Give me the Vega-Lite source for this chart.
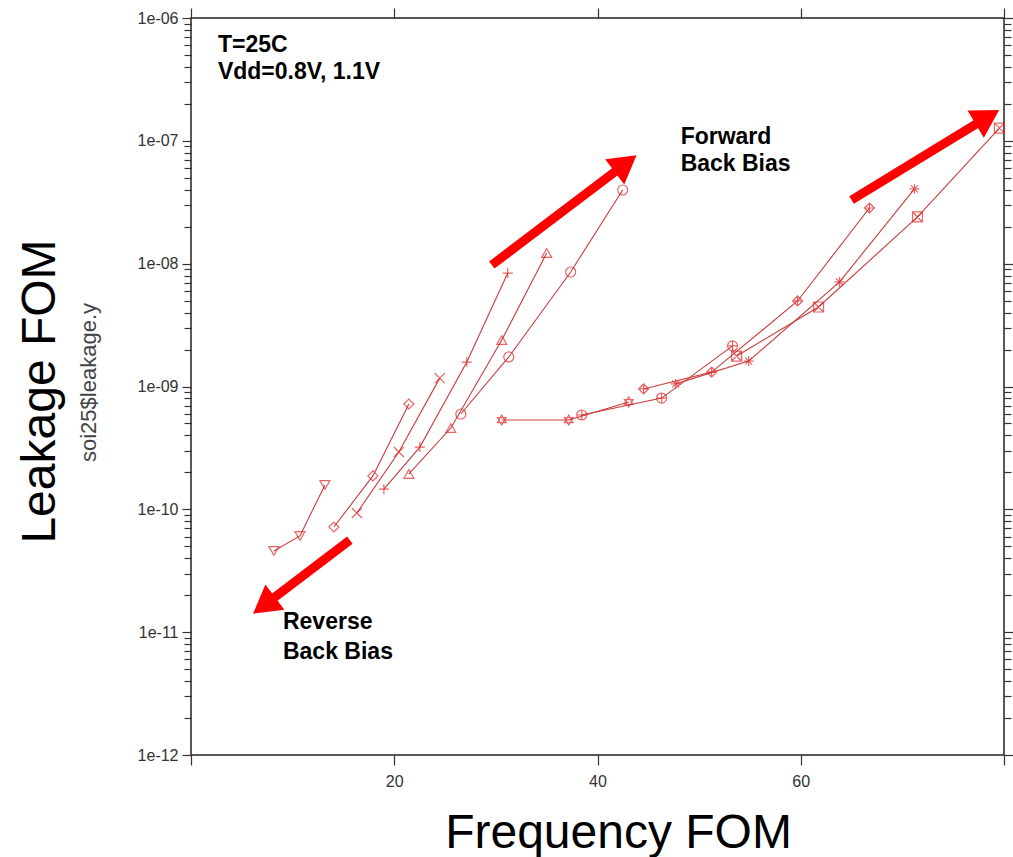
{
  "$schema": "https://vega.github.io/schema/vega-lite/v6.json",
  "width": 813,
  "height": 737,
  "autosize": {"type": "none"},
  "padding": {"left": 191, "top": 18, "right": 9, "bottom": 102},
  "background": "white",
  "config": {
    "view": {"stroke": "#222", "strokeWidth": 1.5},
    "font": "Liberation Sans",
    "axis": {"labelFont": "Liberation Sans", "titleFont": "Liberation Sans", "domain": false, "grid": false, "ticks": true, "tickColor": "#333", "tickWidth": 1.2, "tickOpacity": 1, "labelColor": "#333"}
  },
  "datasets": {
    "pts": [
      {"series": "L1", "x": 8.16, "y": 4.58e-11}, {"series": "L1", "x": 10.72, "y": 6.07e-11}, {"series": "L1", "x": 13.18, "y": 1.58e-10},
      {"series": "L2", "x": 14.06, "y": 7.18e-11}, {"series": "L2", "x": 17.9, "y": 1.87e-10}, {"series": "L2", "x": 21.44, "y": 7.2e-10},
      {"series": "L3", "x": 16.32, "y": 9.33e-11}, {"series": "L3", "x": 20.45, "y": 2.93e-10}, {"series": "L3", "x": 24.48, "y": 1.17e-9},
      {"series": "L4", "x": 18.98, "y": 1.46e-10}, {"series": "L4", "x": 22.52, "y": 3.21e-10}, {"series": "L4", "x": 27.14, "y": 1.58e-9}, {"series": "L4", "x": 31.17, "y": 8.39e-9},
      {"series": "L5", "x": 21.44, "y": 1.94e-10}, {"series": "L5", "x": 25.57, "y": 4.59e-10}, {"series": "L5", "x": 30.58, "y": 2.39e-9}, {"series": "L5", "x": 35.0, "y": 1.22e-8},
      {"series": "L6", "x": 26.55, "y": 5.97e-10}, {"series": "L6", "x": 31.27, "y": 1.74e-9}, {"series": "L6", "x": 37.36, "y": 8.55e-9}, {"series": "L6", "x": 42.48, "y": 3.98e-8},
      {"series": "R1", "x": 30.58, "y": 5.33e-10}, {"series": "R1", "x": 37.17, "y": 5.33e-10}, {"series": "R1", "x": 43.07, "y": 7.48e-10},
      {"series": "R2", "x": 38.45, "y": 5.86e-10}, {"series": "R2", "x": 46.31, "y": 8.05e-10}, {"series": "R2", "x": 53.29, "y": 2.14e-9},
      {"series": "R3", "x": 44.54, "y": 9.55e-10}, {"series": "R3", "x": 51.23, "y": 1.31e-9}, {"series": "R3", "x": 59.69, "y": 4.97e-9}, {"series": "R3", "x": 66.76, "y": 2.84e-8},
      {"series": "R4", "x": 47.69, "y": 1.05e-9}, {"series": "R4", "x": 54.87, "y": 1.61e-9}, {"series": "R4", "x": 63.82, "y": 7.1e-9}, {"series": "R4", "x": 71.19, "y": 4.06e-8},
      {"series": "R5", "x": 53.69, "y": 1.77e-9}, {"series": "R5", "x": 61.75, "y": 4.44e-9}, {"series": "R5", "x": 71.49, "y": 2.4e-8}, {"series": "R5", "x": 79.55, "y": 1.27e-7}
    ],
    "arrows": [
      {"arrow": "fwd1", "x": 29.6, "y": 9.75e-9, "x2": 42.77, "y2": 6.53e-8, "heading": 53},
      {"arrow": "fwd2", "x": 65.0, "y": 3.3e-8, "x2": 78.37, "y2": 1.56e-7, "heading": 59},
      {"arrow": "rev", "x": 15.63, "y": 5.62e-11, "x2": 7.18, "y2": 1.65e-11, "heading": 233}
    ],
    "notes": [
      {"label": "T=25C", "x": 2.65, "y": 6.03e-7},
      {"label": "Vdd=0.8V, 1.1V", "x": 2.65, "y": 3.63e-7},
      {"label": "Forward", "x": 48.18, "y": 1.07e-7},
      {"label": "Back Bias", "x": 48.18, "y": 6.5e-8},
      {"label": "Reverse", "x": 9.05, "y": 1.2e-11},
      {"label": "Back Bias", "x": 9.05, "y": 6.85e-12}
    ]
  },
  "resolve": {"axis": {"x": "independent", "y": "independent"}},
  "layer": [
    {
      "data": {"name": "pts"},
      "mark": {"type": "line", "color": "#c83c3c", "strokeWidth": 1.1},
      "encoding": {
        "x": {"field": "x", "type": "quantitative", "scale": {"domain": [0, 80], "nice": false, "zero": false},
          "axis": {"orient": "bottom", "values": [0, 20, 40, 60, 80], "labelExpr": "datum.value == 0 || datum.value == 80 ? '' : datum.label", "tickSize": 10, "labelFontSize": 16, "labelPadding": 8,
            "title": "Frequency FOM", "titleFontSize": 48, "titleFontWeight": "normal", "titleColor": "#000", "titleX": 427, "titleY": 78, "titleBaseline": "middle", "titleAlign": "center"}},
        "y": {"field": "y", "type": "quantitative", "scale": {"type": "log", "domain": [1e-12, 1e-6], "nice": false, "zero": false},
          "axis": {"orient": "left", "values": [1e-12, 1e-11, 1e-10, 1e-9, 1e-8, 1e-7, 1e-6], "labelExpr": "'1e-' + format(-round(log(datum.value)/LN10), '02d')", "tickSize": 9, "labelFontSize": 16, "labelPadding": 4,
            "title": "Leakage FOM", "titleFontSize": 48, "titleFontWeight": "normal", "titleColor": "#000", "titleAngle": -90, "titleX": -151, "titleY": 373, "titleBaseline": "middle", "titleAlign": "center"}},
        "detail": {"field": "series", "type": "nominal"}
      }
    },
    {
      "data": {"name": "pts"},
      "mark": {"type": "point", "filled": false, "color": "#e02424", "strokeWidth": 1.2, "size": 100},
      "encoding": {
        "x": {"field": "x", "type": "quantitative", "scale": {"domain": [0, 80], "nice": false, "zero": false},
          "axis": {"orient": "top", "values": [0, 20, 40, 60, 80], "labels": false, "tickSize": 10, "title": null}},
        "y": {"field": "y", "type": "quantitative", "scale": {"type": "log", "domain": [1e-12, 1e-6], "nice": false, "zero": false},
          "axis": {"orient": "right", "values": [1e-12, 1e-11, 1e-10, 1e-9, 1e-8, 1e-7, 1e-6], "labels": false, "tickSize": 9, "title": null}},
        "shape": {"field": "series", "type": "nominal", "legend": null,
          "scale": {"domain": ["L1", "L2", "L3", "L4", "L5", "L6", "R1", "R2", "R3", "R4", "R5"],
            "range": ["triangle-down", "diamond", "M-1,-1L1,1M-1,1L1,-1", "M-1,0L1,0M0,-1L0,1", "triangle-up", "circle",
              "M0,-1L0.87,0.5L-0.87,0.5ZM0,1L0.87,-0.5L-0.87,-0.5Z",
              "M1,0A1,1,0,1,1,-1,0A1,1,0,1,1,1,0ZM-1,0L1,0M0,-1L0,1",
              "M0,-1L1,0L0,1L-1,0ZM-1,0L1,0M0,-1L0,1",
              "M-1,0L1,0M0,-1L0,1M-0.7,-0.7L0.7,0.7M-0.7,0.7L0.7,-0.7",
              "M-1,-1L1,-1L1,1L-1,1ZM-1,-1L1,1M-1,1L1,-1"]}}
      }
    },
    {
      "data": {"name": "arrows"},
      "mark": {"type": "rule", "color": "#ff0000", "strokeWidth": 9},
      "encoding": {
        "x": {"field": "x", "type": "quantitative", "scale": {"domain": [0, 80], "nice": false, "zero": false}, "axis": null},
        "x2": {"field": "x2"},
        "y": {"field": "y", "type": "quantitative", "scale": {"type": "log", "domain": [1e-12, 1e-6], "nice": false, "zero": false},
          "axis": {"orient": "left", "values": [2e-12, 3e-12, 4e-12, 5e-12, 6e-12, 7e-12, 8e-12, 9e-12, 2e-11, 3e-11, 4e-11, 5e-11, 6e-11, 7e-11, 8e-11, 9e-11, 2e-10, 3e-10, 4e-10, 5e-10, 6e-10, 7e-10, 8e-10, 9e-10, 2e-9, 3e-9, 4e-9, 5e-9, 6e-9, 7e-9, 8e-9, 9e-9, 2e-8, 3e-8, 4e-8, 5e-8, 6e-8, 7e-8, 8e-8, 9e-8, 2e-7, 3e-7, 4e-7, 5e-7, 6e-7, 7e-7, 8e-7, 9e-7],
            "labels": false, "ticks": true, "tickSize": 7, "tickColor": "#333", "tickWidth": 1.2,
            "title": "soi25$leakage.y", "titleFontSize": 22, "titleFontWeight": "normal", "titleColor": "#444", "titleAngle": -90, "titleX": -103, "titleY": 364, "titleBaseline": "middle", "titleAlign": "center"}},
        "y2": {"field": "y2"}
      }
    },
    {
      "data": {"name": "arrows"},
      "mark": {"type": "point", "shape": "triangle-up", "filled": true, "color": "#ff0000", "opacity": 1, "size": 1000},
      "encoding": {
        "x": {"field": "x2", "type": "quantitative", "scale": {"domain": [0, 80], "nice": false, "zero": false}, "axis": null},
        "y": {"field": "y2", "type": "quantitative", "scale": {"type": "log", "domain": [1e-12, 1e-6], "nice": false, "zero": false},
          "axis": {"orient": "right", "values": [2e-12, 3e-12, 4e-12, 5e-12, 6e-12, 7e-12, 8e-12, 9e-12, 2e-11, 3e-11, 4e-11, 5e-11, 6e-11, 7e-11, 8e-11, 9e-11, 2e-10, 3e-10, 4e-10, 5e-10, 6e-10, 7e-10, 8e-10, 9e-10, 2e-9, 3e-9, 4e-9, 5e-9, 6e-9, 7e-9, 8e-9, 9e-9, 2e-8, 3e-8, 4e-8, 5e-8, 6e-8, 7e-8, 8e-8, 9e-8, 2e-7, 3e-7, 4e-7, 5e-7, 6e-7, 7e-7, 8e-7, 9e-7],
            "labels": false, "ticks": true, "tickSize": 7, "tickColor": "#333", "tickWidth": 1.2, "title": null}},
        "angle": {"field": "heading", "type": "quantitative", "scale": null}
      }
    },
    {
      "data": {"name": "notes"},
      "mark": {"type": "text", "align": "left", "baseline": "middle", "font": "Liberation Sans", "fontWeight": "bold", "fontSize": 23, "color": "#000"},
      "encoding": {
        "x": {"field": "x", "type": "quantitative", "scale": {"domain": [0, 80], "nice": false, "zero": false}, "axis": null},
        "y": {"field": "y", "type": "quantitative", "scale": {"type": "log", "domain": [1e-12, 1e-6], "nice": false, "zero": false}, "axis": null},
        "text": {"field": "label", "type": "nominal"}
      }
    }
  ]
}
